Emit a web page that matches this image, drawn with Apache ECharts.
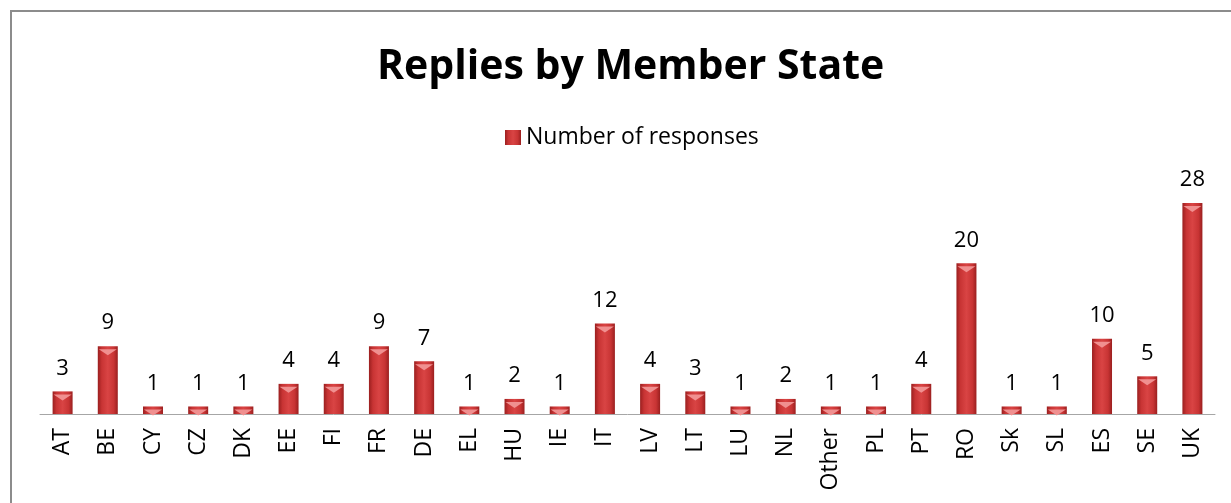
<!DOCTYPE html>
<html>
<head>
<meta charset="utf-8">
<script src="https://cdn.jsdelivr.net/npm/echarts@6/dist/echarts.min.js"></script>
<style>
html,body{margin:0;padding:0;background:#fff;}
#chart{width:1231px;height:503px;}
</style>
</head>
<body>
<div id="chart"></div>
<script>
const categories = ["AT","BE","CY","CZ","DK","EE","FI","FR","DE","EL","HU","IE","IT","LV","LT","LU","NL","Other","PL","PT","RO","Sk","SL","ES","SE","UK"];
const responses = [3,9,1,1,1,4,4,9,7,1,2,1,12,4,3,1,2,1,1,4,20,1,1,10,5,28];
const seriesName = "Number of responses";
const titleText = "Replies by Member State";

const chart = echarts.init(document.getElementById('chart'), null, {renderer:'canvas'});
const barGrad = new echarts.graphic.LinearGradient(0,0,1,0,[
  {offset:0,color:'#9a1f1f'},
  {offset:0.2,color:'#c83434'},
  {offset:0.5,color:'#d94444'},
  {offset:0.8,color:'#c83434'},
  {offset:1,color:'#9a1f1f'}
]);
chart.setOption({
  animation:false,
  backgroundColor:'#ffffff',
  title:{
    text:titleText,
    left:372,
    top:42,
    textStyle:{fontFamily:'Open Sans',fontWeight:'bold',fontSize:41,color:'#000'}
  },
  legend:{
    data:[seriesName],
    left:500,
    top:121,
    itemWidth:16,
    itemHeight:15,
    itemGap:8,
    icon:'rect',
    textStyle:{fontFamily:'Open Sans',fontSize:23,color:'#000'}
  },
  grid:{left:40,right:16,top:203,bottom:89,containLabel:false},
  xAxis:{
    type:'category',
    data:categories,
    axisLine:{show:true,lineStyle:{color:'#a6a6a6',width:1}},
    axisTick:{show:false},
    axisLabel:{rotate:90,margin:14,interval:0,fontFamily:'Open Sans',fontSize:23,color:'#000'}
  },
  yAxis:{type:'value',min:0,max:28,show:false,splitLine:{show:false}},
  series:[{
    name:seriesName,
    type:'bar',
    data:responses,
    barWidth:20,
    itemStyle:{color:barGrad},
    label:{show:true,position:'top',distance:12,fontFamily:'Open Sans',fontSize:22,color:'#000'}
  },{
    name:'bevel',
    type:'pictorialBar',
    data:responses,
    symbol:'path://M0,0 L10,0 L5,4 Z',
    symbolSize:[18,6],
    symbolPosition:'end',
    symbolOffset:[0,'50%'],
    barGap:'-100%',
    z:3,
    silent:true,
    itemStyle:{color:'#f09090'}
  }],
  graphic:[
    {type:'line',shape:{x1:11,y1:11,x2:11,y2:503},style:{stroke:'#8c8c8c',lineWidth:2}},
    {type:'line',shape:{x1:10,y1:11,x2:1231,y2:11},style:{stroke:'#8c8c8c',lineWidth:2}}
  ]
});
</script>
</body>
</html>
